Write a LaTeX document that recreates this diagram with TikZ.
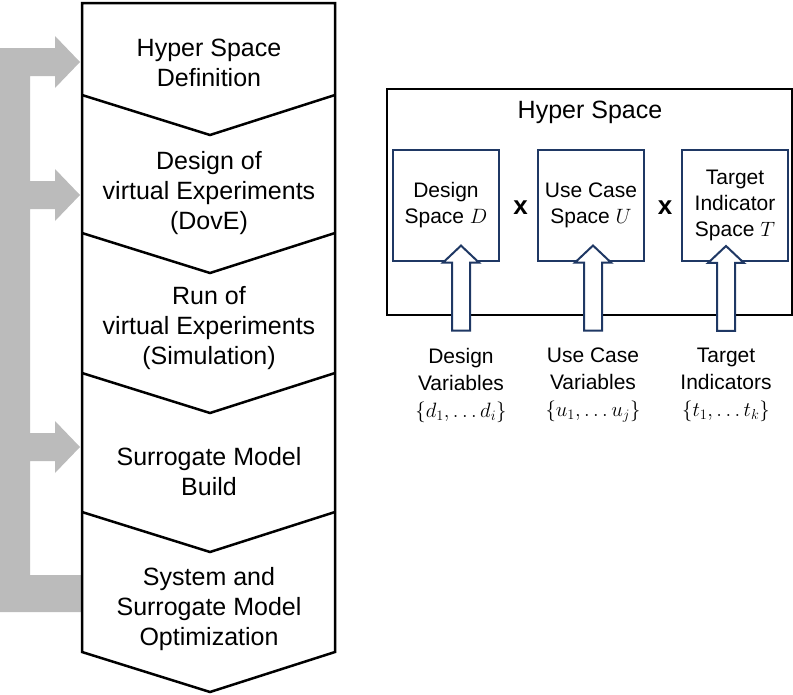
\documentclass[tikz,border=0pt]{standalone}
\usepackage{fontspec}
\setmainfont{Liberation Sans}
\usepackage{xcolor}
\usepackage{tikz}
\usetikzlibrary{positioning, calc}

\definecolor{loopgray}{RGB}{187,187,187}
\definecolor{spacenavy}{RGB}{31,56,100}

\begin{document}
\begin{tikzpicture}[
  x=1pt, y=-1pt,
  every node/.style={align=center, inner sep=0pt},
  steptext/.style={font=\fontsize{25}{30}\selectfont},
  chevline/.style={line width=2.5pt, line join=miter},
  spacebox/.style={draw=spacenavy, line width=2pt, minimum width=106pt,
    minimum height=111pt, font=\fontsize{21}{26}\selectfont},
  varlabel/.style={font=\fontsize{21}{27}\selectfont},
  hollowarrow/.style={draw=spacenavy, line width=2pt, fill=white},
  times/.style={font=\fontsize{26}{30}\selectfont\bfseries},
]
  \useasboundingbox (0,0) rectangle (793,694);

  % feedback loop
  \fill[loopgray] (0,48) -- (55,48) -- (55,36) -- (80,62) -- (55,88) -- (55,76)
    -- (30,76) -- (30,181) -- (55,181) -- (55,169) -- (80,195) -- (55,221) -- (55,209)
    -- (30,209) -- (30,433) -- (55,433) -- (55,421) -- (80,447) -- (55,473) -- (55,461)
    -- (30,461) -- (30,575) -- (82,575) -- (82,612) -- (0,612) -- cycle;

  % process chevrons
  \draw[chevline] (82,3) -- (335,3) -- (335,652) -- (210,692) -- (82,652) -- cycle;
  \foreach \y in {95,233,373,512}
    \draw[chevline] (82,\y) -- (210,\y+40) -- (335,\y);

  \node (hsd)  [steptext] at (209,63)  {Hyper Space\\Definition};
  \node (dove) [steptext] at (209,193) {Design of\\virtual Experiments\\(DovE)};
  \node (rove) [steptext] at (209,328) {Run of\\virtual Experiments\\(Simulation)};
  \node (smb)  [steptext] at (209,472) {Surrogate Model\\Build};
  \node (sso)  [steptext] at (209,609) {System and\\Surrogate Model\\Optimization};

  % hyper space
  \draw[line width=2.5pt] (387,89) rectangle (792,315);
  \node (hs) [steptext] at (590,112) {Hyper Space};

  \node (dspace) [spacebox] at (446,205) {Design\\Space $D$};
  \node (uspace) [spacebox, right=37pt of dspace] {Use Case\\Space $U$};
  \node (tspace) [spacebox, right=36pt of uspace] {Target\\Indicator\\Space $T$};

  \node (x1) [times] at ($(dspace.east)!0.5!(uspace.west)+(2,3)$) {x};
  \node (x2) [times] at ($(uspace.east)!0.5!(tspace.west)+(2,3)$) {x};

  \node (dvar) [varlabel] at (461,385) {Design\\Variables\\$\{d_1,\dots d_i\}$};
  \node (uvar) [varlabel] at (593,385) {Use Case\\Variables\\$\{u_1,\dots u_j\}$};
  \node (tvar) [varlabel] at (726,385) {Target\\Indicators\\$\{t_1,\dots t_k\}$};

  \foreach \v in {dvar,uvar,tvar}
    \draw[hollowarrow] ($(\v.north)+(-9,-17)$) -- ++(0,-68) -- ++(-9,0) -- ++(18,-17)
      -- ++(18,17) -- ++(-9,0) -- ++(0,68) -- cycle;
\end{tikzpicture}
\end{document}
